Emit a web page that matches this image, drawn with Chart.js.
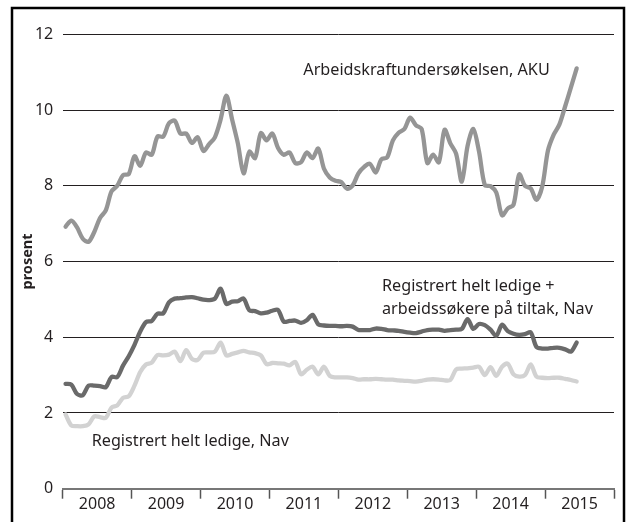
<!DOCTYPE html>
<html>
<head>
<meta charset="utf-8">
<script src="https://cdn.jsdelivr.net/npm/chart.js@4/dist/chart.umd.min.js"></script>
<style>
  html, body { margin: 0; padding: 0; background: #fff; }
  #wrap { width: 627px; height: 522px; }
</style>
</head>
<body>
<div id="wrap"><canvas id="chart" width="627" height="522"></canvas></div>
<script>
// monthly values, Jan 2008 - Jun 2015
var years = ['2008', '2009', '2010', '2011', '2012', '2013', '2014', '2015']
var yTicks = [0, 2, 4, 6, 8, 10, 12]

var aku = [
  6.92, 7.08, 6.90, 6.60, 6.52, 6.78, 7.15, 7.35, 7.85, 8.00, 8.28, 8.31,
  8.78, 8.53, 8.88, 8.82, 9.30, 9.30, 9.65, 9.72, 9.38, 9.38, 9.13, 9.28,
  8.92, 9.10, 9.28, 9.75, 10.38, 9.75, 9.12, 8.33, 8.90, 8.73, 9.39, 9.20,
  9.38, 9.00, 8.82, 8.88, 8.60, 8.62, 8.88, 8.73, 8.98, 8.45, 8.22, 8.13,
  8.10, 7.92, 8.01, 8.33, 8.50, 8.58, 8.35, 8.70, 8.75, 9.20, 9.40, 9.50,
  9.80, 9.60, 9.50, 8.60, 8.82, 8.62, 9.48, 9.12, 8.85, 8.11, 9.05, 9.50,
  8.90, 8.02, 7.99, 7.82, 7.22, 7.40, 7.50, 8.30, 8.00, 7.93, 7.63, 7.98,
  8.93, 9.35, 9.62, 10.10, 10.60, 11.10
]

var navTiltak = [
  2.77, 2.75, 2.50, 2.47, 2.72, 2.72, 2.71, 2.68, 2.95, 2.95, 3.25, 3.50,
  3.80, 4.15, 4.40, 4.43, 4.62, 4.63, 4.92, 5.02, 5.03, 5.05, 5.06, 5.03,
  4.99, 4.98, 5.02, 5.28, 4.88, 4.94, 4.95, 5.02, 4.71, 4.69, 4.63, 4.65,
  4.70, 4.72, 4.41, 4.43, 4.44, 4.38, 4.45, 4.59, 4.34, 4.31, 4.30, 4.30,
  4.29, 4.30, 4.28, 4.19, 4.19, 4.19, 4.23, 4.22, 4.19, 4.18, 4.17, 4.14,
  4.12, 4.11, 4.15, 4.19, 4.20, 4.20, 4.17, 4.19, 4.20, 4.22, 4.48, 4.22,
  4.35, 4.32, 4.20, 4.04, 4.33, 4.16, 4.09, 4.06, 4.08, 4.13, 3.74, 3.70,
  3.70, 3.72, 3.72, 3.68, 3.62, 3.86
]

var navLedige = [
  1.96, 1.67, 1.65, 1.65, 1.70, 1.91, 1.89, 1.87, 2.14, 2.20, 2.40, 2.44,
  2.72, 3.08, 3.28, 3.33, 3.53, 3.52, 3.54, 3.62, 3.37, 3.66, 3.43, 3.40,
  3.59, 3.60, 3.62, 3.86, 3.52, 3.56, 3.60, 3.64, 3.60, 3.58, 3.52, 3.29,
  3.32, 3.31, 3.30, 3.26, 3.35, 3.02, 3.14, 3.22, 3.02, 3.22, 2.98, 2.94,
  2.94, 2.94, 2.92, 2.88, 2.89, 2.89, 2.90, 2.89, 2.88, 2.88, 2.86, 2.85,
  2.84, 2.83, 2.85, 2.88, 2.89, 2.88, 2.86, 2.87, 3.15, 3.17, 3.18, 3.20,
  3.22, 3.00, 3.21, 2.98, 3.22, 3.30, 3.02, 2.96, 3.00, 3.28, 2.96, 2.93,
  2.92, 2.93, 2.93, 2.90, 2.87, 2.83
]

// label text and where it sits (x in months from Jan 2008, y in percent)
var seriesLabels = [
  { lines: ['Arbeidskraftundersøkelsen, AKU'], x: 41.9, y: 11.06 },
  { lines: ['Registrert helt ledige +', 'arbeidssøkere på tiltak, Nav'], x: 55.6, y: 5.34 },
  { lines: ['Registrert helt ledige, Nav'], x: 5.05, y: 1.24 }
]

var textFont = '"Noto Sans", sans-serif'
var ink = '#231f20'

function toPoints(arr) {
  return arr.map(function(v, i) { return { x: i + 0.5, y: v } })
}

var labelPlugin = {
  id: 'labels',
  afterDatasetsDraw: function(chart) {
    var ctx = chart.ctx
    var xs = chart.scales.x, ys = chart.scales.y
    ctx.save()
    ctx.fillStyle = ink
    ctx.font = '16.2px ' + textFont
    ctx.textAlign = 'left'
    ctx.textBaseline = 'middle'
    seriesLabels.forEach(function(l) {
      var px = xs.getPixelForValue(l.x)
      var py = ys.getPixelForValue(l.y)
      l.lines.forEach(function(t, i) {
        ctx.fillText(t, px, py + i * 22.6)
      })
    })
    ctx.restore()
  },
  afterDraw: function(chart) {
    var ctx = chart.ctx
    ctx.save()
    ctx.strokeStyle = '#000'
    ctx.lineWidth = 2.5
    ctx.strokeRect(12, 8, 612, 530)
    ctx.restore()
  }
}

function line(data, color, width) {
  return {
    data: toPoints(data),
    borderColor: color,
    borderWidth: width,
    pointRadius: 0,
    tension: 0.3,
    fill: false,
    borderJoinStyle: 'round',
    borderCapStyle: 'round'
  }
}

new Chart(document.getElementById('chart').getContext('2d'), {
  type: 'line',
  data: {
    datasets: [
      line(aku, '#959595', 4.3),
      line(navTiltak, '#6a6a6a', 4.3),
      line(navLedige, '#d2d2d2', 4.3)
    ]
  },
  plugins: [labelPlugin],
  options: {
    responsive: false,
    animation: false,
    events: [],
    layout: { padding: { left: 0, right: 13, top: 34.3, bottom: 0 } },
    plugins: { legend: { display: false }, tooltip: { enabled: false } },
    scales: {
      x: {
        type: 'linear',
        min: 0,
        max: 96,
        afterFit: function(s) { s.height = 33.3 },
        ticks: {
          stepSize: 6,
          autoSkip: false,
          maxRotation: 0,
          padding: -4,
          color: ink,
          font: { family: textFont, size: 16 },
          callback: function(v) { return v % 12 === 6 ? years[(v - 6) / 12] : '' }
        },
        grid: {
          drawOnChartArea: false,
          drawTicks: true,
          tickLength: 10,
          tickWidth: 1.5,
          tickColor: function(c) { return c.tick && c.tick.value % 12 === 0 ? '#555' : 'rgba(0,0,0,0)' }
        },
        border: { display: true, color: '#777', width: 2 }
      },
      y: {
        min: 0,
        max: 12,
        afterFit: function(s) { s.width = 62.7 },
        afterBuildTicks: function(s) { s.ticks = yTicks.map(function(v) { return { value: v } }) },
        ticks: {
          padding: 9.5,
          color: ink,
          font: { family: textFont, size: 16 }
        },
        grid: {
          drawTicks: false,
          color: function(c) { return c.tick && c.tick.value === 0 ? '#777' : ink },
          lineWidth: function(c) { return c.tick && c.tick.value === 0 ? 2 : 1 }
        },
        border: { display: false },
        title: {
          display: true,
          text: 'prosent',
          color: ink,
          padding: { top: 19, bottom: 0 },
          font: { family: textFont, size: 14.5, weight: 'bold' }
        }
      }
    }
  }
})
</script>
</body>
</html>
